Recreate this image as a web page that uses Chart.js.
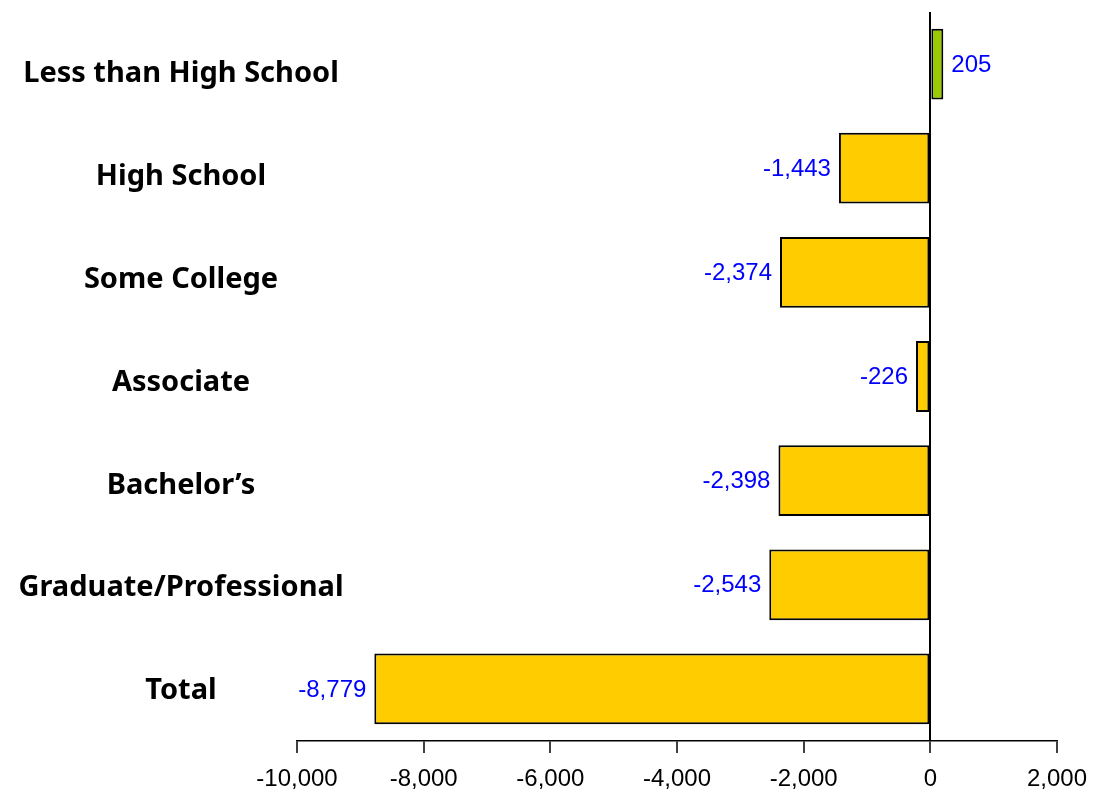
<!DOCTYPE html>
<html>
<head>
<meta charset="utf-8">
<script src="https://cdn.jsdelivr.net/npm/chart.js@4.4.1/dist/chart.umd.min.js"></script>
<style>
  html, body { margin: 0; padding: 0; background: #fff; }
  #wrap { width: 1110px; height: 794px; }
</style>
</head>
<body>
<div id="wrap"><canvas id="eduChart" width="1110" height="794"></canvas></div>
<script>
'use strict';

// Chart data
const categories = ['Less than High School', 'High School', 'Some College', 'Associate', 'Bachelor\u2019s', 'Graduate/Professional', 'Total'];
const changeValues = [205, -1443, -2374, -226, -2398, -2543, -8779];
const xTicks = [-10000, -8000, -6000, -4000, -2000, 0, 2000];

const catFamily = '"Noto Sans", "DejaVu Sans", sans-serif';
const catSize = 29;
const yellow = '#FFCC00';
const green = '#99CC00';

// category labels sit a little lower than their bars, more so at the top
function labelShift(i) {
  return (categories.length - 1 - i) * 1.3 + 2;
}

// measure widest category label so it can be centred at x≈181
function widestLabel() {
  const c = document.createElement('canvas').getContext('2d');
  c.font = `bold ${catSize}px ${catFamily}`;
  let w = 0;
  for (let cat of categories) {
    w = Math.max(w, c.measureText(cat).width);
  }
  return w;
}
const labelPad = 181 - 297 - widestLabel() / 2;

// value labels beside each bar
const valueLabels = {
  id: 'valueLabels',
  afterDatasetsDraw(chart) {
    const ctx = chart.ctx;
    const meta = chart.getDatasetMeta(0);
    ctx.save();
    ctx.font = '24px "Liberation Sans", Arial, sans-serif';
    ctx.fillStyle = '#0000FF';
    ctx.textBaseline = 'middle';
    meta.data.forEach(function(bar, i) {
      const v = changeValues[i];
      const txt = v.toLocaleString('en-US');
      if (v < 0) {
        ctx.textAlign = 'right';
        ctx.fillText(txt, bar.x - 8, bar.y + 1);
      } else {
        ctx.textAlign = 'left';
        ctx.fillText(txt, bar.x + 8, bar.y + 1);
      }
    });
    ctx.restore();
  }
};

const ctx = document.getElementById('eduChart').getContext('2d');

const barChart = new Chart(ctx, {
  type: 'bar',
  data: {
    labels: categories,
    datasets: [{
      data: changeValues,
      backgroundColor: changeValues.map(v => v >= 0 ? green : yellow),
      borderColor: '#000',
      borderWidth: 2,
      borderSkipped: false,
      categoryPercentage: 1,
      barPercentage: 0.68
    }]
  },
  options: {
    indexAxis: 'y',
    responsive: false,
    animation: false,
    devicePixelRatio: 1,
    layout: { padding: { top: 12, right: 53, bottom: 0, left: 0 } },
    plugins: {
      legend: { display: false },
      tooltip: { enabled: false }
    },
    scales: {
      x: {
        min: -10000,
        max: 2000,
        afterBuildTicks: function(scale) {
          scale.ticks = xTicks.map(v => ({ value: v }));
        },
        afterFit: function(scale) {
          scale.height = 53;
        },
        grid: {
          color: c => (c.tick && c.tick.value === 0) ? '#000' : 'rgba(0,0,0,0)',
          lineWidth: 2,
          tickColor: '#000',
          tickWidth: 1.5,
          tickLength: 12,
          drawOnChartArea: true
        },
        border: { display: true, color: '#000', width: 1.5 },
        ticks: {
          color: '#000',
          padding: 12,
          maxRotation: 0,
          font: { family: '"Liberation Sans", Arial, sans-serif', size: 24 },
          callback: v => v.toLocaleString('en-US')
        }
      },
      y: {
        afterFit: function(scale) {
          scale.width = 297;
        },
        grid: { display: false, drawTicks: false },
        border: { display: false },
        ticks: {
          color: '#000',
          mirror: true,
          crossAlign: 'center',
          padding: labelPad,
          font: c => ({
            family: catFamily,
            size: catSize,
            weight: 'bold',
            lineHeight: (2 * labelShift(c.index)) + 'px'
          }),
          callback: function(v, i) {
            return ['', categories[i]];
          }
        }
      }
    }
  },
  plugins: [valueLabels]
});
</script>
</body>
</html>
